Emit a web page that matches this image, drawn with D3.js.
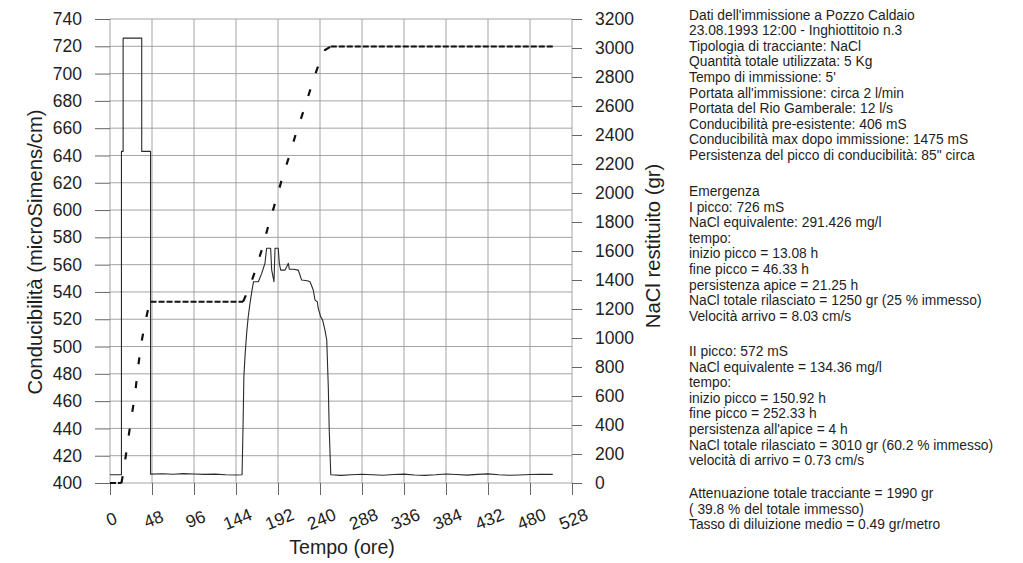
<!DOCTYPE html>
<html>
<head>
<meta charset="utf-8">
<script src="https://cdn.jsdelivr.net/npm/d3@7"></script>
<style>
  html, body { margin: 0; padding: 0; background: #fff; }
  svg { display: block; font-family: "Liberation Sans", Arial, sans-serif; }
</style>
</head>
<body>
<svg id="chart" width="1023" height="563"></svg>
<script>
// Conductivity record (hours after injection, microSiemens/cm)
const condTime = [0, 4, 8, 13.08, 13.08, 15, 15, 36.25, 36.25, 46.33, 46.33, 60, 72, 84, 96, 108, 120, 132, 144, 150.92,
  152, 153, 154.5, 156.2, 158, 160, 162, 164, 169.5, 173.4, 177.1, 179, 183.6, 184.8, 187.4, 188.6, 192.3, 193.5, 195.1,
  200, 202, 203.8, 205, 209.5, 215.2, 217.1, 219, 225.5, 228.6, 232.3, 234.3, 236.9, 238, 240.8, 243, 245.7, 247.7,
  249.5, 250.5, 252.33, 264, 276, 288, 300, 312, 324, 336, 348, 360, 372, 384, 396, 408, 420, 432, 444, 456, 468, 480, 492, 506];
const condValue = [406, 406, 406, 406, 643, 643, 726, 726, 643, 643, 406.5, 406.8, 406.4, 406.9, 406.6, 406.3, 406.5, 406.1, 405.9, 406,
  440, 478, 495, 510, 522, 531.6, 540, 547.5, 547.5, 553.6, 561, 572, 572, 556, 547.5, 572, 572, 561, 556,
  556, 558.4, 561, 556.6, 556.6, 556, 552.4, 548.7, 548.2, 547.5, 541.4, 534, 532.8, 528, 521.8, 519.4, 512, 504.8,
  470, 440, 406, 405.6, 406.1, 406.4, 406.0, 405.7, 406.2, 406.5, 405.9, 405.6, 406.0, 406.6, 406.2, 405.8, 406.3, 406.7, 406.1, 405.7, 405.9, 406.2, 406.4, 406.3];

// Cumulative NaCl recovered (grams)
const naclTime = [0, 13.08, 16.3, 20.2, 24, 28.6, 31.7, 35.4, 40, 44.9, 46.33, 100, 152, 158, 165.7, 173.4, 180.2, 188.6,
  196.2, 204.6, 212.6, 220.9, 229.4, 236.9, 245.7, 252.33, 380, 506.6];
const naclValue = [0, 0, 112, 280, 434, 610, 779, 952, 1103, 1234, 1250, 1250, 1250, 1331, 1457, 1607, 1757, 1929,
  2090, 2250, 2412, 2561, 2722, 2860, 2986, 3010, 3010, 3010];

// Axis ticks
const timeTicks = [0, 48, 96, 144, 192, 240, 288, 336, 384, 432, 480, 528];
const condTicks = [400, 420, 440, 460, 480, 500, 520, 540, 560, 580, 600, 620, 640, 660, 680, 700, 720, 740];
const naclTicks = [0, 200, 400, 600, 800, 1000, 1200, 1400, 1600, 1800, 2000, 2200, 2400, 2600, 2800, 3000, 3200];

// Axis titles
const xTitle = "Tempo (ore)";
const yLeftTitle = "Conducibilità (microSimens/cm)";
const yRightTitle = "NaCl restituito (gr)";

// Injection / emergence notes, in blocks
const infoBlocks = [
  ["Dati dell'immissione a Pozzo Caldaio",
   "23.08.1993 12:00 - Inghiottitoio n.3",
   "Tipologia di tracciante: NaCl",
   "Quantità totale utilizzata: 5 Kg",
   "Tempo di immissione: 5'",
   "Portata all'immissione: circa 2 l/min",
   "Portata del Rio Gamberale: 12 l/s",
   "Conducibilità pre-esistente: 406 mS",
   "Conducibilità max dopo immissione: 1475 mS",
   "Persistenza del picco di conducibilità: 85\" circa"],
  ["Emergenza",
   "I picco: 726 mS",
   "NaCl equivalente: 291.426 mg/l",
   "tempo:",
   "inizio picco = 13.08 h",
   "fine picco = 46.33 h",
   "persistenza apice = 21.25 h",
   "NaCl totale rilasciato = 1250 gr (25 % immesso)",
   "Velocità arrivo = 8.03 cm/s"],
  ["II picco: 572 mS",
   "NaCl equivalente = 134.36 mg/l",
   "tempo:",
   "inizio picco = 150.92 h",
   "fine picco = 252.33 h",
   "persistenza all'apice = 4 h",
   "NaCl totale rilasciato = 3010 gr (60.2 % immesso)",
   "velocità di arrivo = 0.73 cm/s"],
  ["Attenuazione totale tracciante = 1990 gr",
   "( 39.8 % del totale immesso)",
   "Tasso di diluizione medio = 0.49 gr/metro"]
];

const svg = d3.select("#chart");
const plot = { left: 110, right: 572, top: 19, bottom: 483 };
const ink = "#1e1e1e";

const x = d3.scaleLinear().domain([0, 528]).range([plot.left, plot.right]);
const yL = d3.scaleLinear().domain([400, 740]).range([plot.bottom, plot.top]);
const yR = d3.scaleLinear().domain([0, 3200]).range([plot.bottom, plot.top]);

// grid
const grid = svg.append("g").attr("stroke", "#9a9a9a").attr("stroke-width", 0.9);
grid.selectAll("line.h").data(condTicks).join("line")
  .attr("x1", plot.left).attr("x2", plot.right)
  .attr("y1", d => yL(d)).attr("y2", d => yL(d));
grid.selectAll("line.v").data(timeTicks).join("line")
  .attr("y1", plot.top).attr("y2", plot.bottom)
  .attr("x1", d => x(d)).attr("x2", d => x(d));

// axes
function styleAxis(g) {
  g.select(".domain").remove();
  g.selectAll(".tick line").attr("stroke", "#555").attr("stroke-width", 0.9);
  g.selectAll(".tick text").attr("fill", ink).attr("font-size", "17.5px")
    .attr("font-family", "'Liberation Sans', Arial, sans-serif");
}

svg.append("g").attr("transform", `translate(${plot.left},0)`)
  .call(d3.axisLeft(yL).tickValues(condTicks).tickSize(15).tickPadding(13).tickFormat(d3.format("d")))
  .call(styleAxis);

svg.append("g").attr("transform", `translate(${plot.right},0)`)
  .call(d3.axisRight(yR).tickValues(naclTicks).tickSize(10).tickPadding(13).tickFormat(d3.format("d")))
  .call(styleAxis);

const xAxis = svg.append("g").attr("transform", `translate(0,${plot.bottom})`)
  .call(d3.axisBottom(x).tickValues(timeTicks).tickSize(12).tickFormat(d3.format("d")))
  .call(styleAxis);
xAxis.selectAll(".tick text")
  .attr("y", 0).attr("dy", "0.35em")
  .attr("text-anchor", "middle")
  .attr("transform", "translate(1,36) rotate(-22)");

// conductivity trace
const condData = condTime.map((t, i) => [t, condValue[i]]);
svg.append("path")
  .datum(condData)
  .attr("fill", "none")
  .attr("stroke", "#2a2a2a")
  .attr("stroke-width", 1.1)
  .attr("stroke-linejoin", "round")
  .attr("d", d3.line().x(d => x(d[0])).y(d => yL(d[1])));

// cumulative NaCl: plateaus drawn with a dense dash, rising stretches with a sparse dash
const naclData = naclTime.map((t, i) => [t, naclValue[i]]);
const runs = [];
for (let i = 1; i < naclData.length; i++) {
  const flat = naclData[i][1] === naclData[i - 1][1];
  const last = runs[runs.length - 1];
  if (last && last.flat === flat) last.pts.push(naclData[i]);
  else runs.push({ flat, pts: [naclData[i - 1], naclData[i]] });
}
const naclLine = d3.line().x(d => x(d[0])).y(d => yR(d[1]));
svg.append("g").selectAll("path").data(runs).join("path")
  .attr("fill", "none")
  .attr("stroke", "#111")
  .attr("stroke-width", d => d.flat ? 2 : 2.2)
  .attr("stroke-dasharray", d => d.flat ? "6,2" : "7,17")
  .attr("d", d => naclLine(d.pts));

// axis titles
svg.append("text")
  .attr("transform", `translate(35,252) rotate(-90)`)
  .attr("text-anchor", "middle").attr("dominant-baseline", "central")
  .attr("font-size", "20.3px").attr("fill", ink).text(yLeftTitle);
svg.append("text")
  .attr("transform", `translate(653,246) rotate(-90)`)
  .attr("text-anchor", "middle").attr("dominant-baseline", "central")
  .attr("font-size", "20.3px").attr("fill", ink).text(yRightTitle);
svg.append("text")
  .attr("x", 342).attr("y", 547)
  .attr("text-anchor", "middle").attr("dominant-baseline", "central")
  .attr("font-size", "19.6px").attr("fill", ink).text(xTitle);

// notes
const blockTops = [15, 191.5, 351.5, 493.5];
const lineStep = 15.6;
const notes = svg.append("g").attr("font-size", "13.8px").attr("fill", ink);
infoBlocks.forEach((lines, b) => {
  notes.selectAll(null).data(lines).join("text")
    .attr("x", 689)
    .attr("y", (d, i) => blockTops[b] + i * lineStep)
    .attr("dominant-baseline", "central")
    .text(d => d);
});
</script>
</body>
</html>
